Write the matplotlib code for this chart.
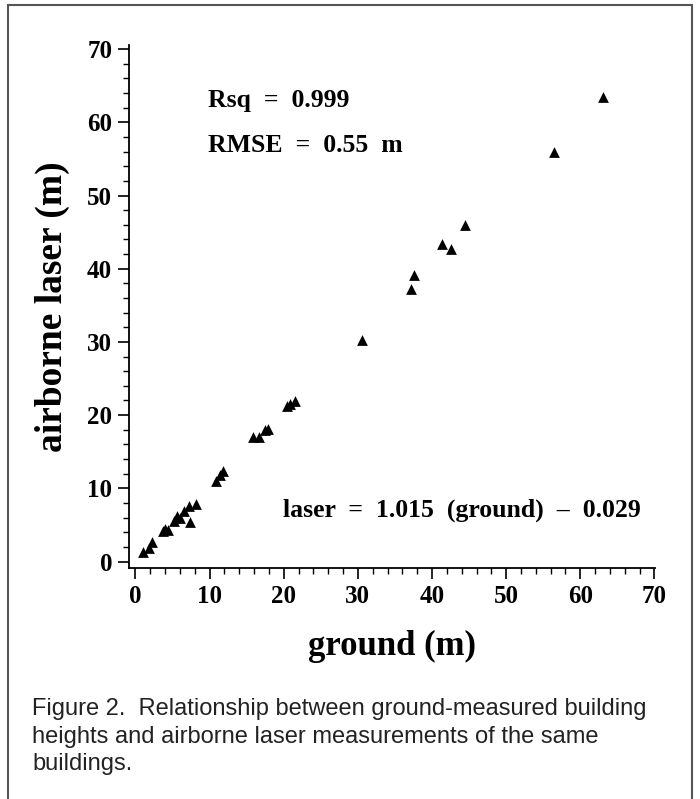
import matplotlib
matplotlib.use("Agg")
import matplotlib.pyplot as plt
from matplotlib.patches import Rectangle
from matplotlib.ticker import MultipleLocator

# ground-measured vs airborne laser building heights (m)
ground = [1.0, 1.8, 2.2, 3.7, 4.0, 4.4, 5.2, 5.6, 6.0, 6.6, 7.2, 7.3, 8.2,
          10.9, 11.4, 11.8, 15.8, 16.7, 17.5, 17.9, 20.5, 20.9, 21.5,
          30.5, 37.1, 37.5, 41.3, 42.6, 44.5, 56.5, 63.1]
laser = [1.3, 1.8, 2.6, 4.2, 4.5, 4.3, 5.6, 6.2, 6.0, 6.9, 7.6, 5.4, 7.9,
         11.0, 11.8, 12.3, 17.0, 17.0, 17.9, 18.1, 21.2, 21.5, 21.9,
         30.3, 37.2, 39.1, 43.4, 42.7, 46.0, 56.0, 63.4]

rsq_text = "Rsq  =  0.999"
rmse_text = "RMSE  =  0.55  m"
eq_text = "laser  =  1.015  (ground)  \u2013  0.029"
caption = ("Figure 2.  Relationship between ground-measured building\n"
           "heights and airborne laser measurements of the same\n"
           "buildings.")

serif = "Liberation Serif"

fig = plt.figure(figsize=(7, 7.99), dpi=100)

# outer frame
fig.patches.append(Rectangle((0.012, -0.01), 0.976, 1.004, transform=fig.transFigure,
                             fill=False, edgecolor="#555555", linewidth=1.5))

ax = fig.add_axes([0.184, 0.289, 0.752, 0.655])
ax.scatter(ground, laser, marker="^", s=60, color="black", linewidths=0, zorder=3)

ax.set_xlim(-0.9, 70.1)
ax.set_ylim(-0.9, 70.6)
ax.spines["top"].set_visible(False)
ax.spines["right"].set_visible(False)
ax.spines["left"].set_linewidth(1.3)
ax.spines["bottom"].set_linewidth(1.3)
ax.xaxis.set_major_locator(MultipleLocator(10))
ax.xaxis.set_minor_locator(MultipleLocator(2))
ax.yaxis.set_major_locator(MultipleLocator(10))
ax.yaxis.set_minor_locator(MultipleLocator(2))
ax.tick_params(which="major", length=8, width=1.2, direction="out", pad=4)
ax.tick_params(which="minor", length=4, width=1.0, direction="out")
for lab in ax.get_xticklabels() + ax.get_yticklabels():
    lab.set_fontfamily(serif)
    lab.set_fontweight("bold")
    lab.set_fontsize(18)

ax.set_xlabel("ground (m)", fontfamily=serif, fontweight="bold", fontsize=25, labelpad=16)
ax.set_ylabel("airborne laser (m)", fontfamily=serif, fontweight="bold", fontsize=27, labelpad=12)

ax.text(9.8, 63.0, rsq_text, fontfamily=serif, fontweight="bold", fontsize=18.5, va="center")
ax.text(9.8, 56.9, rmse_text, fontfamily=serif, fontweight="bold", fontsize=18.5, va="center")
ax.text(19.9, 7.0, eq_text, fontfamily=serif, fontweight="bold", fontsize=18.5, va="center")

fig.text(0.046, 0.078, caption, fontfamily="Liberation Sans", fontsize=17,
         va="center", ha="left", linespacing=1.32, color="#222222")

fig.savefig("out.png", dpi=100)
